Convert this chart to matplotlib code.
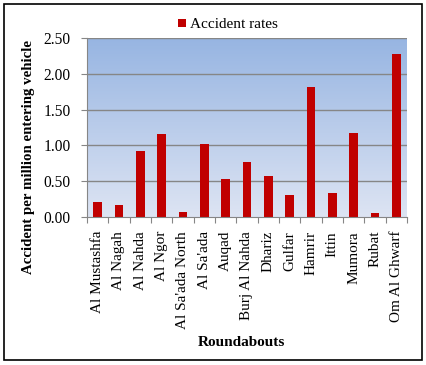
import matplotlib
matplotlib.use("Agg")
import matplotlib.pyplot as plt
import numpy as np
from matplotlib.colors import LinearSegmentedColormap
from matplotlib.patches import Rectangle

categories = ["Al Mustashfa", "Al Nagah", "Al Nahda", "Al Ngor", "Al Sa'ada North",
              "Al Sa'ada", "Auqad", "Burj Al Nahda", "Dhariz", "Gulfar", "Hamrir",
              "Ittin", "Mumora", "Rubat", "Om Al Ghwarf"]
rates = [0.21, 0.17, 0.92, 1.16, 0.07, 1.02, 0.53, 0.77, 0.57, 0.31, 1.82, 0.34, 1.17, 0.06, 2.28]
yticks = [0.0, 0.5, 1.0, 1.5, 2.0, 2.5]

plt.rcParams['font.family'] = ['Liberation Serif', 'DejaVu Serif']

fig = plt.figure(figsize=(4.26, 3.65), dpi=100)
ax = fig.add_axes([87/426, 1-217/365, 320/426, 179/365])

n = len(categories)
x = np.arange(n)
ax.set_xlim(-0.5, n-0.5)
ax.set_ylim(0, 2.5)

cmap = LinearSegmentedColormap.from_list('g', ['#dde4f3', '#97b5e2'])
grad = np.linspace(0, 1, 256).reshape(-1, 1)
ax.imshow(grad, extent=[-0.5, n-0.5, 0, 2.5], origin='lower', aspect='auto', cmap=cmap, zorder=0)

for t in yticks[1:]:
    ax.axhline(t, color='#868686', lw=1.0, zorder=1)

ax.bar(x, rates, width=0.42, color='#c00000', zorder=2, label='Accident rates')

ax.set_yticks(yticks)
ax.set_yticklabels([f"{v:.2f}" for v in yticks], fontsize=11.2)
ax.set_xticks(np.arange(-0.5, n, 1.0), minor=False)
ax.set_xticklabels([])
ax.set_xticks(x, minor=True)
ax.set_xticklabels(categories, minor=True, rotation=90, fontsize=11)
ax.tick_params(axis='x', which='minor', length=0, pad=10)
ax.tick_params(axis='x', which='major', length=4, color='#868686', direction='out')
ax.tick_params(axis='y', length=4, color='#868686', direction='out', pad=8)
for s in ['top', 'right']:
    ax.spines[s].set_visible(False)
for s in ['left', 'bottom']:
    ax.spines[s].set_color('#868686')

fig.text(29/426, 1-157/365, 'Accident per million entering vehicle', fontsize=10.7,
         fontweight='bold', rotation=90, ha='center', va='center')
fig.text(241/426, 1-343/365, 'Roundabouts', fontsize=11, fontweight='bold',
         ha='center', va='center')

leg = fig.legend(loc='center', bbox_to_anchor=(228/426, 1-25/365), frameon=False, fontsize=11,
                 handlelength=0.5, handleheight=0.5, handletextpad=0.3, borderpad=0)

fig.patches.append(Rectangle((4/426, 1-360/365), 418/426, 356/365, transform=fig.transFigure,
                             fill=False, edgecolor='black', lw=1.2))

fig.savefig('out.png', dpi=100)
